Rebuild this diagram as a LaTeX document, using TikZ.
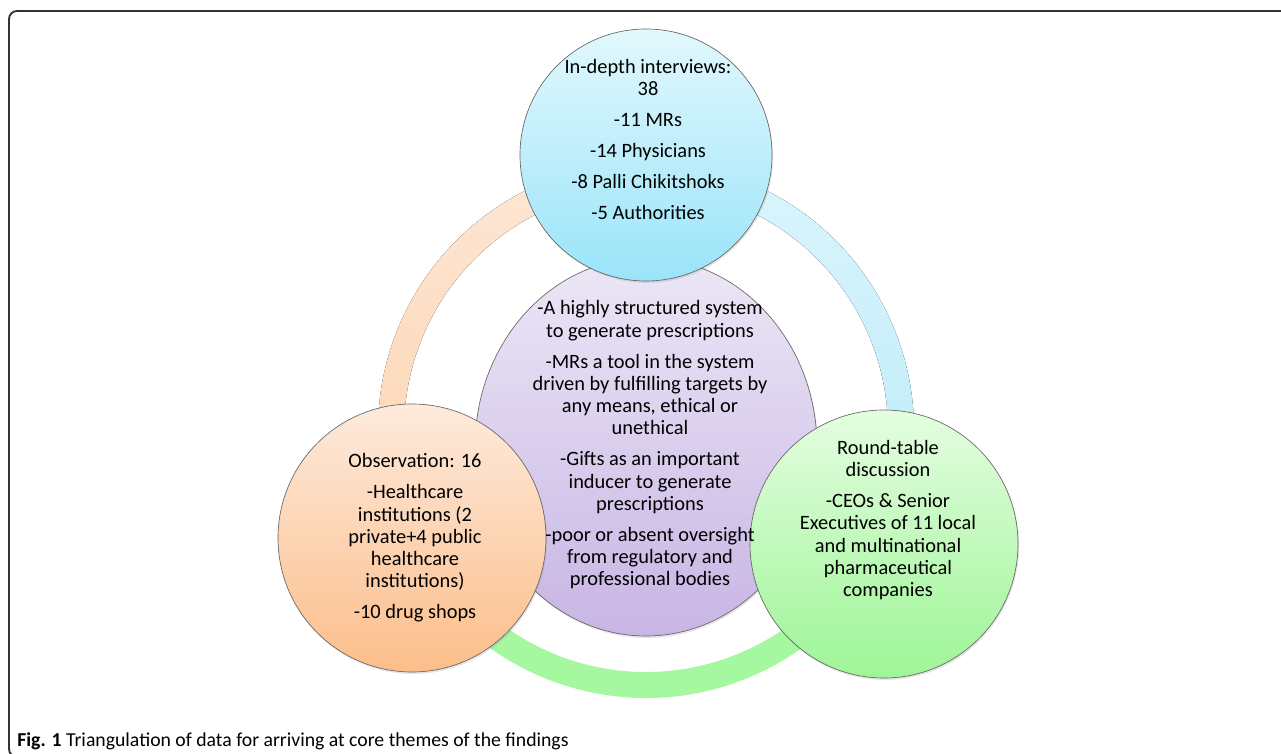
\documentclass[tikz,border=0pt]{standalone}
\usepackage{fontspec}
\setmainfont{Carlito}
\usetikzlibrary{shapes.geometric,shadows,calc}

\definecolor{bluetop}{RGB}{226,248,253}
\definecolor{bluebot}{RGB}{154,228,250}
\definecolor{purpletop}{RGB}{236,231,246}
\definecolor{purplebot}{RGB}{200,181,228}
\definecolor{orangetop}{RGB}{253,234,220}
\definecolor{orangebot}{RGB}{252,190,138}
\definecolor{greentop}{RGB}{228,253,224}
\definecolor{greenbot}{RGB}{158,245,151}
\definecolor{ringorangetop}{RGB}{253,231,214}
\definecolor{ringorangebot}{RGB}{253,210,172}
\definecolor{ringbluetop}{RGB}{218,245,253}
\definecolor{ringbluebot}{RGB}{186,234,250}
\definecolor{ringgreen}{RGB}{166,248,160}

\tikzstyle{bubble} = [circle, draw=black!60, line width=0.5pt, inner sep=0pt,
  drop shadow={opacity=0.2, shadow xshift=0.8pt, shadow yshift=-1.5pt}]
\tikzstyle{words} = [align=center, inner sep=0pt,
  font=\fontsize{15.3}{16.7}\selectfont]

\begin{document}
\begin{tikzpicture}[x=0.75pt,y=0.75pt]
  \useasboundingbox (0,0) rectangle (1281,753);
  \clip (0,0) rectangle (1281,753);
  % frame
  \draw[line width=1.4pt, draw=black!80, rounded corners=6pt] (9,-4) rectangle (1300,742);

  % ring behind the bubbles
  \coordinate (hub) at (646,323);
  \fill[top color=ringorangetop, bottom color=ringorangebot]
    ($(hub)+(90:268)$) arc[start angle=90, end angle=210, radius=268]
    -- ($(hub)+(210:242)$) arc[start angle=210, end angle=90, radius=242] -- cycle;
  \fill[top color=ringbluetop, bottom color=ringbluebot]
    ($(hub)+(-30:268)$) arc[start angle=-30, end angle=90, radius=268]
    -- ($(hub)+(90:242)$) arc[start angle=90, end angle=-30, radius=242] -- cycle;
  \fill[ringgreen]
    ($(hub)+(210:268)$) arc[start angle=210, end angle=330, radius=268]
    -- ($(hub)+(330:242)$) arc[start angle=330, end angle=210, radius=242] -- cycle;

  % bubbles
  \node[bubble, ellipse, minimum width=256.5pt, minimum height=283.5pt,
    top color=purpletop, bottom color=purplebot] (themes) at (646,306) {};
  \node[bubble, minimum size=189pt, top color=bluetop, bottom color=bluebot]
    (interviews) at (646,598) {};
  \node[bubble, minimum size=201pt, top color=orangetop, bottom color=orangebot]
    (observation) at (412,215) {};
  \node[bubble, minimum size=201pt, top color=greentop, bottom color=greenbot]
    (roundtable) at (884,209) {};

  % texts
  \node[words] (interviews text) at ($(interviews)+(2,16)$) {In-depth interviews:\\38\\[6.5pt]
    -11 MRs\\[6.5pt]-14 Physicians\\[6.5pt]-8 Palli Chikitshoks\\[6.5pt]-5 Authorities};
  \node[words] (themes text) at ($(themes)+(4,2)$) {-A highly structured system\\to generate prescriptions\\[6.5pt]
    -MRs a tool in the system\\driven by fulfilling targets by\\any means, ethical or\\unethical\\[6.5pt]
    -Gifts as an important\\inducer to generate\\prescriptions\\[6.5pt]
    -poor or absent oversight\\from regulatory and\\professional bodies};
  \node[words] (observation text) at ($(observation)+(3,0)$) {Observation: 16\\[6.5pt]
    -Healthcare\\institutions (2\\private+4 public\\healthcare\\institutions)\\[6.5pt]-10 drug shops};
  \node[words] (roundtable text) at ($(roundtable)+(4,24)$) {Round-table\\discussion\\[6.5pt]
    -CEOs \& Senior\\Executives of 11 local\\and multinational\\pharmaceutical\\companies};

  % caption
  \node[anchor=base west, inner sep=0pt, font=\fontsize{14.8}{16}\selectfont] (caption) at (17,7)
    {\textbf{Fig. 1} Triangulation of data for arriving at core themes of the findings};
\end{tikzpicture}
\end{document}
